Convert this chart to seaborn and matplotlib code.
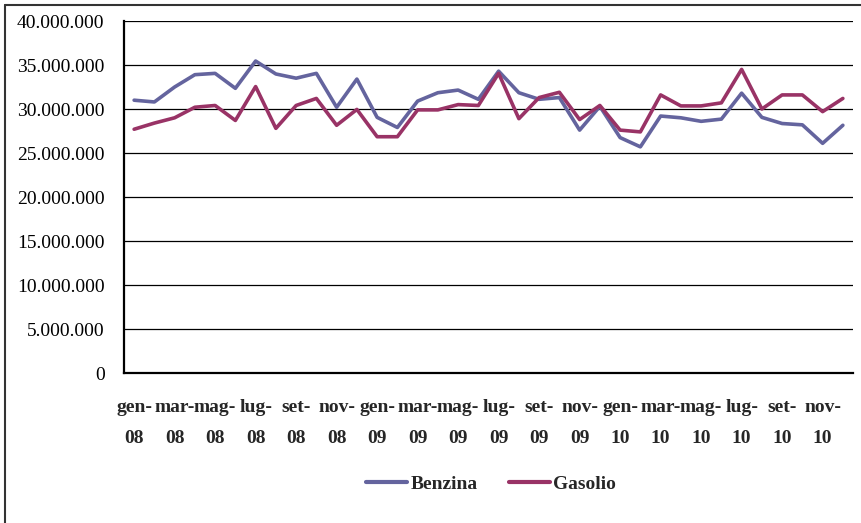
import matplotlib
matplotlib.use("Agg")
import matplotlib.pyplot as plt
import matplotlib.ticker as mticker
from matplotlib.lines import Line2D
import seaborn as sns
import pandas as pd
import numpy as np

# Monthly consumption (litres), Jan 2008 - Dec 2010
mesi = ["gen", "feb", "mar", "apr", "mag", "giu", "lug", "ago", "set", "ott", "nov", "dic"]
anni = ["08", "09", "10"]
categorie = [f"{m}-{a}" for a in anni for m in mesi]

benzina = [31.0, 30.8, 32.5, 33.9, 34.05, 32.35, 35.45, 33.98, 33.5, 34.05, 30.2, 33.4,
           29.05, 27.9, 30.9, 31.85, 32.15, 31.1, 34.3, 31.85, 31.1, 31.3, 27.6, 30.3,
           26.75, 25.7, 29.2, 29.0, 28.6, 28.85, 31.8, 29.05, 28.35, 28.2, 26.1, 28.15]
gasolio = [27.7, 28.4, 29.0, 30.2, 30.4, 28.7, 32.55, 27.8, 30.4, 31.2, 28.15, 29.95,
           26.85, 26.85, 29.9, 29.9, 30.5, 30.4, 34.05, 28.9, 31.3, 31.9, 28.8, 30.4,
           27.6, 27.4, 31.6, 30.35, 30.35, 30.7, 34.5, 30.0, 31.6, 31.6, 29.7, 31.2]
benzina = [v * 1e6 for v in benzina]
gasolio = [v * 1e6 for v in gasolio]

serie = ["Benzina", "Gasolio"]
colori = ["#64649E", "#993366"]

df = pd.DataFrame({
    "pos": list(range(len(categorie))) * 2,
    "valore": benzina + gasolio,
    "serie": ["Benzina"] * len(categorie) + ["Gasolio"] * len(categorie),
})

sns.set_style("white")
plt.rcParams["font.family"] = ["Liberation Serif", "DejaVu Serif"]

fig = plt.figure(figsize=(8.61, 5.23), dpi=100)
ax = fig.add_axes([124 / 861, 1 - 373 / 523, (853 - 124) / 861, (373 - 21) / 523])

sns.lineplot(data=df, x="pos", y="valore", hue="serie", palette=colori,
             linewidth=2.6, ax=ax, legend=False)

n = len(categorie)
ax.set_xlim(-0.5, n - 0.5)
ax.set_ylim(0, 40e6)

# y axis: Italian thousand separators
ax.yaxis.set_major_locator(mticker.MultipleLocator(5e6))
ax.yaxis.set_major_formatter(mticker.FuncFormatter(
    lambda v, p: f"{int(v):,}".replace(",", ".")))
ax.grid(axis="y", color="black", linewidth=0.9)
ax.set_axisbelow(True)

# x axis: ticks between categories, labels every other month
ax.set_xticks(np.arange(-0.5, n, 2))
ax.set_xticklabels([])
ax.set_xticks(np.arange(0, n, 2), minor=True)
ax.set_xticklabels([c.replace("-", "-\n") for c in categorie[::2]], minor=True,
                   fontsize=14, fontweight="bold", linespacing=2.05)
ax.tick_params(axis="x", which="major", length=6, width=1.2, direction="out", color="black")
ax.tick_params(axis="x", which="minor", length=0, pad=19)
ax.tick_params(axis="y", length=6, width=1.2, direction="out", color="black",
               labelsize=14, pad=8)
for lbl in ax.get_yticklabels():
    lbl.set_color("black")

for s in ["top", "right"]:
    ax.spines[s].set_visible(False)
for s in ["left", "bottom"]:
    ax.spines[s].set_color("black")
    ax.spines[s].set_linewidth(1.6)

ax.set_xlabel("")
ax.set_ylabel("")

handles = [Line2D([], [], color=c, linewidth=3) for c in colori]
fig.legend(handles, serie, loc="center", bbox_to_anchor=(491 / 861, 1 - 484 / 523),
           ncol=2, frameon=False, handlelength=2.1, handletextpad=0.2,
           columnspacing=1.6, prop={"size": 14, "weight": "bold"})

# outer chart border
fig.add_artist(Line2D([5 / 861, 1], [1 - 5 / 523, 1 - 5 / 523], color="#333333",
                      linewidth=1.5, transform=fig.transFigure))
fig.add_artist(Line2D([5 / 861, 5 / 861], [0, 1 - 5 / 523], color="#333333",
                      linewidth=1.5, transform=fig.transFigure))

fig.savefig("out.png", dpi=100)
